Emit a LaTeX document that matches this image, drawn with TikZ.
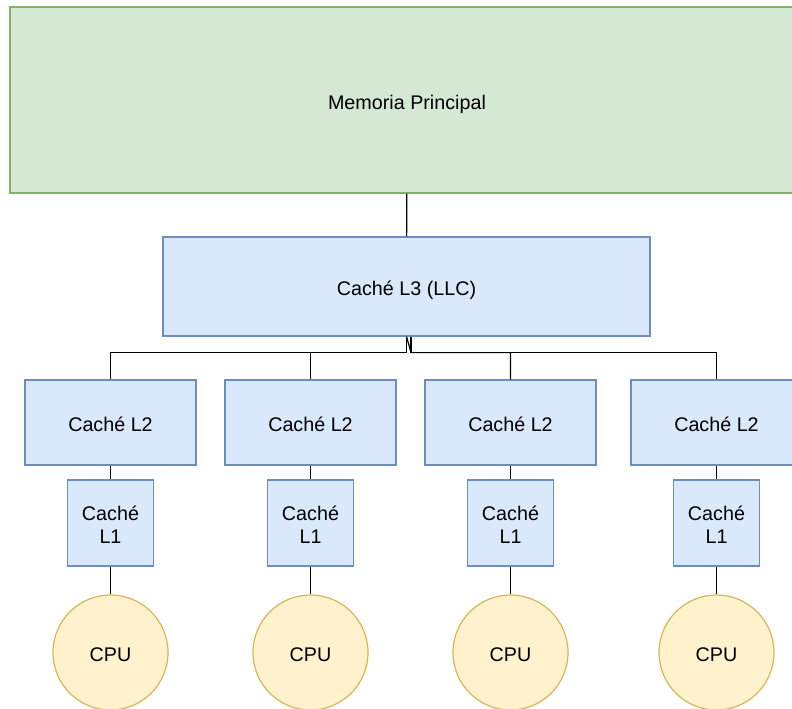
\documentclass[tikz,border=0pt]{standalone}
\usepackage{fontspec}
\setmainfont{Liberation Sans}
\usepackage{xcolor}
\usepackage{tikz}
\definecolor{memfill}{HTML}{D5E8D4}
\definecolor{memline}{HTML}{82B366}
\definecolor{cachefill}{HTML}{DAE8FC}
\definecolor{cacheline}{HTML}{6C8EBF}
\definecolor{cpufill}{HTML}{FFF2CC}
\definecolor{cpuline}{HTML}{D6B656}
\newcommand{\lbl}{\fontsize{14.8}{17.25}\selectfont}

\begin{document}
\begin{tikzpicture}[x = 0.75pt, y = -0.75pt, line width = 0.9pt,
    every node/.style = {font = \lbl, text height = 13.6pt, text depth = 0pt},
    mem/.style = {draw = memline, fill = memfill, minimum width = 595.5pt, minimum height = 139.5pt},
    cache/.style = {draw = cacheline, fill = cachefill, align = center, inner sep = 0pt},
    cpu/.style = {draw = cpuline, fill = cpufill, circle, minimum size = 86.25pt, inner sep = 0pt}]
    \useasboundingbox (0,0) rectangle (792,709);
    \node[mem] (M) at (407,100) {Memoria Principal};
    \node[cache, minimum width = 365.25pt, minimum height = 74.25pt] (L3) at (406.5,286.5) {Caché L3 (LLC)};
    \draw (M) -- (L3);
    \foreach \i\x in {1/110.5, 2/310.5, 3/510.5, 4/716.5} {
      \node[cache, minimum width = 128.25pt, minimum height = 63.75pt] (L2\i) at (\x,422.5) {Caché L2};
      \node[cache, minimum width = 64.5pt, minimum height = 64.5pt, text height = 30.85pt] (L1\i) at (\x,523) {Caché\\L1};
      \node[cpu] (C\i) at (\x,652.5) {CPU};
      \draw (L2\i) -- (L1\i);
      \draw (L1\i) -- (C\i);
    }
    \foreach \i in {1, 2} {
      \draw (L3.south) -- ++(0,16) -| (L2\i.north);
    }
    \draw (L3.south) -- ([xshift = 3.4pt, yshift = -12pt]L3.south) -| (L23.north);
    \draw ([xshift = 3.4pt]L3.south) -- ++(0,16) -| (L24.north);
  \end{tikzpicture}
\end{document}
